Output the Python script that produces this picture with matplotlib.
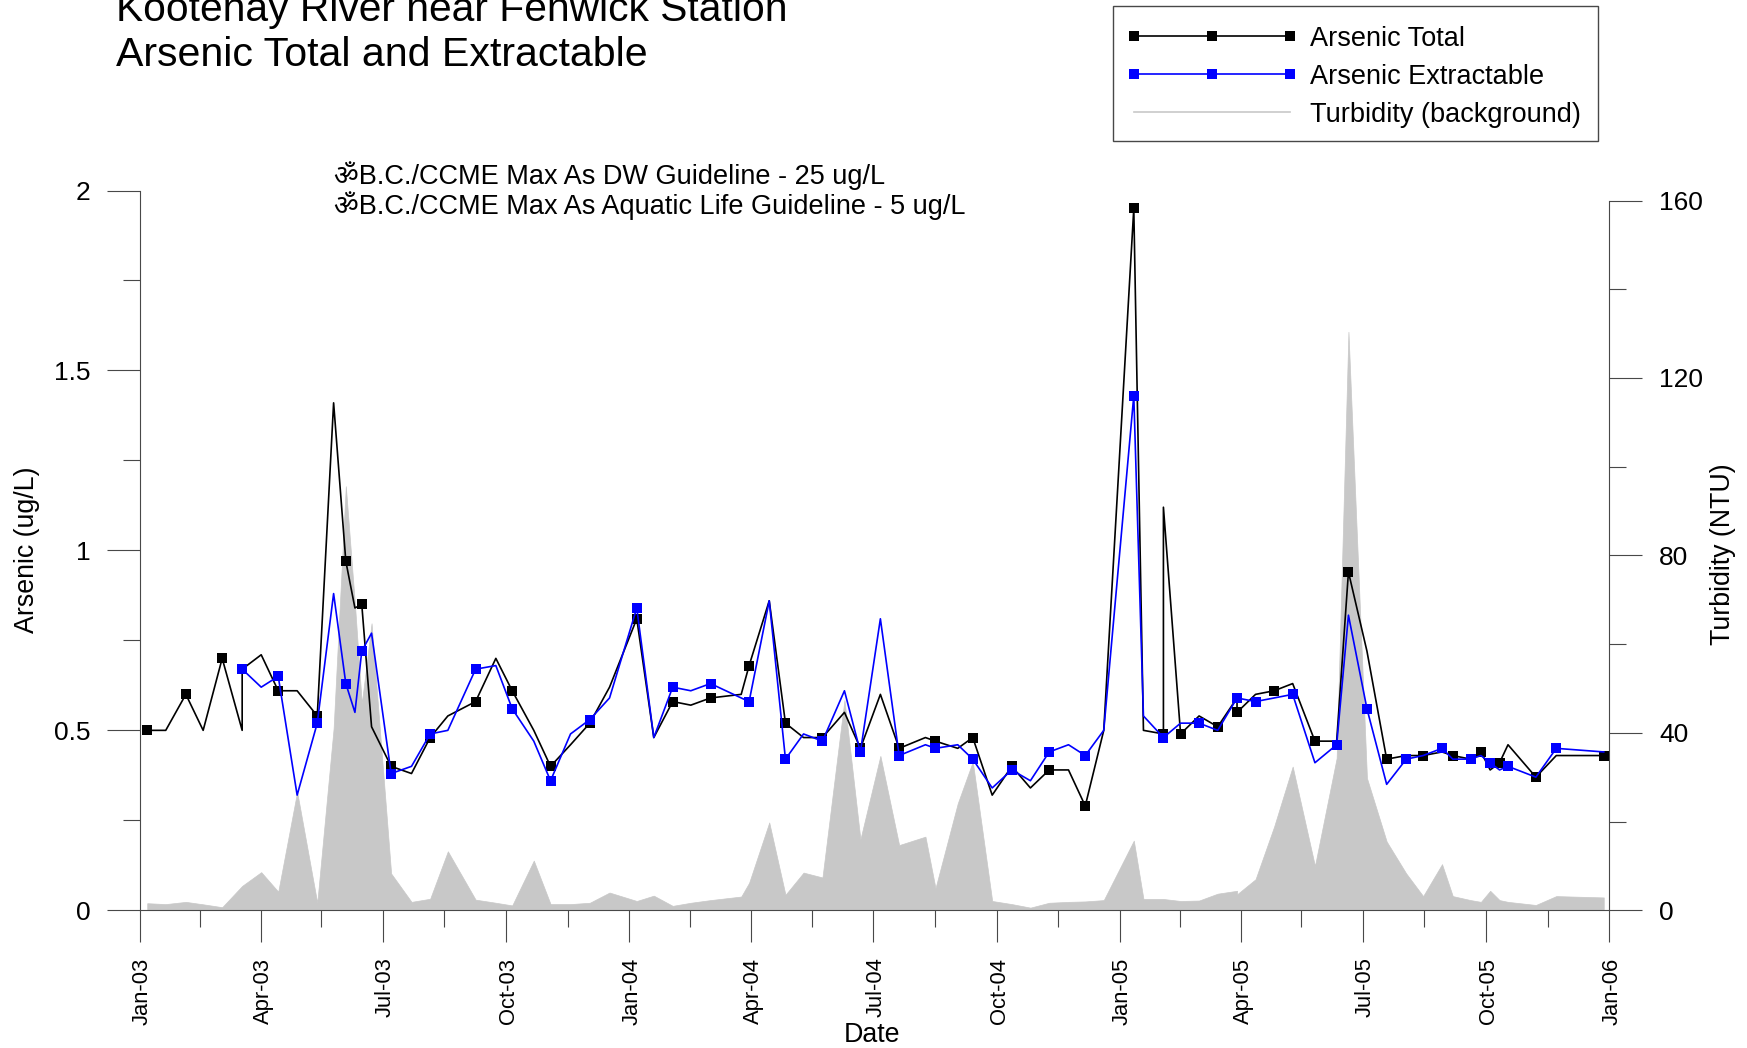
import numpy as np
import matplotlib
matplotlib.use('Agg')
import matplotlib.pyplot as plt
from matplotlib.lines import Line2D
from matplotlib.patches import Rectangle
from matplotlib.legend_handler import HandlerLine2D
from matplotlib.transforms import ScaledTranslation

plt.rcParams['font.family'] = ['Liberation Sans', 'Noto Sans', 'DejaVu Sans']

# sample dates, as days since 2003-01-01
days = [5.4, 19.2, 34.2, 47.1, 61.3, 76.2, 76.2, 90.4, 103.1, 117.2, 132.2, 144.4, 153.5, 160.3, 165.4,
        172.7, 187.3, 202.5, 216.4, 229.6, 250.3, 265.4, 277.6, 293.7, 306.2, 321.1, 335.5, 350.2,
        370.5, 383.2, 397.3, 410.8, 425.5, 448.4, 454.3, 469.3, 481.4, 494.9, 509, 525.4, 537.3,
        552.2, 566.2, 585.8, 593.3, 609.9, 621.1, 635.6, 650.2, 664.1, 678.1, 692.5, 705, 718.8,
        741.2, 748.4, 763.3, 763.3, 776.1, 789.9, 803.8, 818.2, 818.2, 832, 845.9, 859.7, 876.3,
        892.5, 901.3, 915.1, 929.8, 944.4, 957, 971.1, 979.1, 992.4, 1000.1, 1007, 1014, 1020.3,
        1041.1, 1056.3, 1091.7]
arsenic_total = [.50, .50, .60, .50, .70, .50, .67, .71, .61, .61, .54, 1.41, .97, .84, .85,
                 .51, .40, .38, .48, .54, .58, .70, .61, .50, .40, .46, .52, .62,
                 .81, .48, .58, .57, .59, .60, .68, .86, .52, .48, .48, .55, .45,
                 .60, .45, .48, .47, .45, .48, .32, .40, .34, .39, .39, .29, .50,
                 1.95, .50, .49, 1.12, .49, .54, .51, .59, .55, .60, .61, .63, .47,
                 .47, .94, .72, .42, .43, .43, .44, .43, .42, .44, .39, .41, .46,
                 .37, .43, .43]
arsenic_extract = [np.nan, np.nan, np.nan, np.nan, np.nan, np.nan, .67, .62, .65, .32, .52, .88, .63, .55, .72,
                   .77, .38, .40, .49, .50, .67, .68, .56, .47, .36, .49, .53, .59,
                   .84, .48, .62, .61, .63, .59, .58, .86, .42, .49, .47, .61, .44,
                   .81, .43, .46, .45, .46, .42, .34, .39, .36, .44, .46, .43, .50,
                   1.43, .54, .48, .48, .52, .52, .50, .59, .59, .58, .59, .60, .41,
                   .46, .82, .56, .35, .42, .43, .45, .42, .42, .43, .41, .39, .40,
                   .37, .45, .44]
turbidity = [1.6, 1.4, 1.9, 1.35, .7, 5.5, 5.5, 8.6, 4.2, 26.7, 1.7, 41, 95.6, 69, 46.6,
             64.7, 8.3, 1.9, 2.6, 13.3, 2.4, 1.7, 1.1, 11.2, 1.4, 1.4, 1.7, 4,
             2.1, 3.3, 1, 1.7, 2.3, 3.1, 6.2, 19.8, 3.5, 8.5, 7.4, 47.4, 16,
             34.8, 14.7, 16.6, 5, 24.1, 33.5, 2.1, 1.4, .6, 1.7, 1.9, 2, 2.3,
             15.7, 2.55, 2.55, 2.55, 2.1, 2.2, 3.75, 4.4, 3.6, 7, 18.9, 32.4, 10,
             34.3, 130.4, 29.8, 15.5, 8.3, 3.2, 10.4, 3.2, 2.3, 1.9, 4.4, 2.3, 1.9,
             1.2, 3.2, 2.9]

# which samples carry a square marker
total_marked = [0, 2, 4, 6, 8, 10, 12, 14, 16, 18, 20, 22, 24, 26, 28, 30, 32, 34, 36, 38, 40, 42, 44, 46,
                48, 50, 52, 54, 56, 58, 60, 62, 64, 66, 68, 70, 72, 74, 76, 78, 80, 82]
extract_marked = [6, 8, 10, 12, 14, 16, 18, 20, 22, 24, 26, 28, 30, 32, 34, 36, 38, 40, 42, 44, 46, 48, 50, 52,
                  54, 56, 59, 61, 63, 65, 67, 69, 71, 73, 75, 77, 79, 81]

quarter_days = [0, 90, 181, 273, 365, 456, 547, 639, 731, 821, 912, 1004, 1096]
quarter_labels = ['Jan-03', 'Apr-03', 'Jul-03', 'Oct-03', 'Jan-04', 'Apr-04', 'Jul-04', 'Oct-04',
                  'Jan-05', 'Apr-05', 'Jul-05', 'Oct-05', 'Jan-06']
mid_days = [45, 135, 227, 319, 410, 501, 593, 685, 776, 866, 958, 1050]
arsenic_ticks = [0, 0.5, 1, 1.5, 2]
arsenic_labels = ['0', '0.5', '1', '1.5', '2']
arsenic_minor = [0.25, 0.75, 1.25, 1.75]
turb_ticks = [0, 40, 80, 120, 160]
turb_minor = [20, 60, 100, 140]

W, H = 1747, 1048
FS = 19.3
AX_COL = '#484848'
fig = plt.figure(figsize=(W / 100, H / 100), dpi=100)

x0, x1, y0 = 140, 1609.5, 910.3
ax2 = fig.add_axes([x0 / W, 1 - y0 / H, (x1 - x0) / W, (y0 - 200.5) / H])
ax = fig.add_axes([x0 / W, 1 - y0 / H, (x1 - x0) / W, (y0 - 190.5) / H])
ax.patch.set_visible(False)

ax2.fill_between(days, turbidity, 0, color='#c8c8c8', lw=0.5)
ax2.set_xlim(0, 1096)
ax2.set_ylim(0, 160)
ax2.set_xticks([])
ax2.yaxis.tick_right()
ax2.set_yticks(turb_ticks)
ax2.set_yticks(turb_minor, minor=True)
ax2.tick_params(axis='y', which='major', length=23.8, width=0.8, color=AX_COL, labelsize=19, pad=12)
ax2.tick_params(axis='y', which='minor', length=12, width=0.8, color=AX_COL)
for s in ['top', 'left', 'bottom']:
    ax2.spines[s].set_visible(False)
ax2.spines['right'].set_color(AX_COL)
ax2.spines['right'].set_linewidth(0.8)

ax.plot(days, arsenic_total, color='black', lw=1.2, marker='s', ms=6.5, mew=0, markevery=total_marked, zorder=3)
ax.plot(days, arsenic_extract, color='#0000ff', lw=1.2, marker='s', ms=6.5, mew=0, markevery=extract_marked, zorder=4)
ax.set_xlim(0, 1096)
ax.set_ylim(0, 2)
ax.set_xticks(quarter_days)
ax.set_xticklabels(quarter_labels, rotation=90)
ax.set_xticks(mid_days, minor=True)
ax.set_yticks(arsenic_ticks)
ax.set_yticklabels(arsenic_labels)
ax.set_yticks(arsenic_minor, minor=True)
ax.tick_params(axis='x', which='major', length=23, width=0.8, color=AX_COL, labelsize=15.8, pad=11)
ax.tick_params(axis='y', which='major', length=23.8, width=0.8, color=AX_COL, labelsize=19, pad=12)
ax.tick_params(axis='both', which='minor', length=12, width=0.8, color=AX_COL)
for s in ['top', 'right']:
    ax.spines[s].set_visible(False)
for s in ['left', 'bottom']:
    ax.spines[s].set_color(AX_COL)
    ax.spines[s].set_linewidth(0.8)
# rotated labels sit a little left of their ticks otherwise
nudge = ScaledTranslation(2.5 / 100, 0, fig.dpi_scale_trans)
for lab in ax.get_xticklabels():
    lab.set_transform(lab.get_transform() + nudge)

fig.text(872 / W, 1 - 1035 / H, 'Date', fontsize=FS, ha='center', va='center')
fig.text(27.5 / W, 1 - 550 / H, 'Arsenic (ug/L)', fontsize=FS, rotation=90, ha='center', va='center')
fig.text(1723 / W, 1 - 554 / H, 'Turbidity (NTU)', fontsize=FS, rotation=90, ha='center', va='center')

fig.text(116 / W, 1 - 21 / H, 'Kootenay River near Fenwick Station', fontsize=29.35, va='baseline')
fig.text(116 / W, 1 - 65.5 / H, 'Arsenic Total and Extractable', fontsize=29.6, va='baseline')

fig.text(334 / W, 1 - 183.8 / H, '\u0950B.C./CCME Max As DW Guideline - 25 ug/L', fontsize=19.5, va='baseline')
fig.text(334 / W, 1 - 214.3 / H, '\u0950B.C./CCME Max As Aquatic Life Guideline - 5 ug/L', fontsize=19.5, va='baseline')

# legend box drawn on its own so it can have the reference's exact size
fig.add_artist(Rectangle((1113.3 / W, 1 - 141.3 / H), 485 / W, 135.6 / H, transform=fig.transFigure,
                         facecolor='white', edgecolor=AX_COL, lw=1.0))
handles = [Line2D([], [], color='black', lw=1.2, marker='s', ms=6.5, mew=0),
           Line2D([], [], color='#0000ff', lw=1.2, marker='s', ms=6.5, mew=0),
           Line2D([], [], color='#c8c8c8', lw=1.2)]
fig.legend(handles, ['Arsenic Total', 'Arsenic Extractable', 'Turbidity (background)'],
           loc='upper left', bbox_to_anchor=(1115.5 / W, 1 - 7 / H), borderaxespad=0,
           fontsize=19.5, numpoints=3, handlelength=5.73, handletextpad=0.75, labelspacing=0.44,
           borderpad=0.7, frameon=False,
           handler_map={Line2D: HandlerLine2D(marker_pad=0)})

fig.savefig('out.png', dpi=100)
